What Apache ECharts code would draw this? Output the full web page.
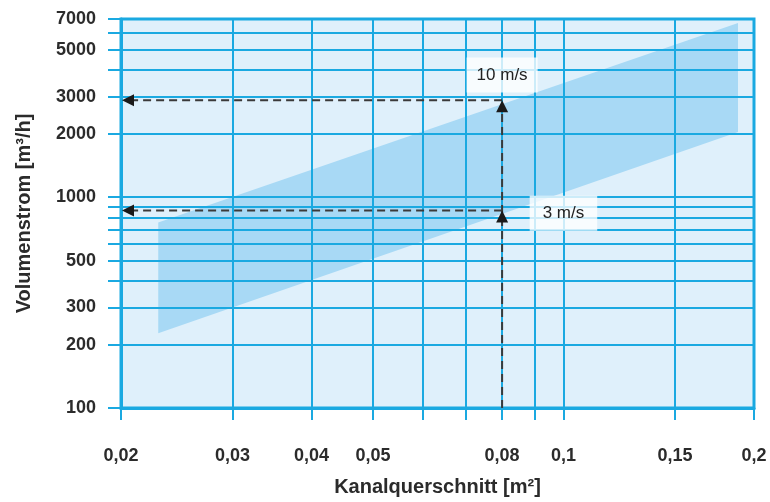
<!DOCTYPE html>
<html><head><meta charset="utf-8">
<script src="https://cdn.jsdelivr.net/npm/echarts@6/dist/echarts.min.js"></script>
<style>html,body{margin:0;padding:0;background:#fff}#c{width:770px;height:502px}</style>
</head><body><div id="c"></div>
<script>
// ---- data ----
const xGridValues = [0.02, 0.03, 0.04, 0.05, 0.06, 0.07, 0.08, 0.09, 0.1, 0.15, 0.2];
const xLabelValues = [0.02, 0.03, 0.04, 0.05, 0.08, 0.1, 0.15, 0.2];
const yGridValues = [100, 200, 300, 400, 500, 600, 700, 800, 900, 1000, 2000, 3000, 4000, 5000, 6000, 7000];
const yLabelValues = [100, 200, 300, 500, 1000, 2000, 3000, 5000, 7000];
const bandX = [0.0229, 0.1887];
const bandLow = [226, 2035];    // 3 m/s edge
const bandHigh = [759, 6700];   // 10 m/s edge
const refX = 0.08;
const refQ10 = 2880;
const refQ3 = 864;
const labelNames = ['10 m/s', '3 m/s'];
const labelX = [0.08, 0.1];
const labelY = [3800, 840];

// ---- helpers ----
const L = Math.log10;
const FONT = 'Liberation Sans, Arial, Helvetica, sans-serif';
const GRID_COLOR = '#1aa9e1';
function fmt(list, v, comma) {
  let best = list[0], bd = Infinity;
  list.forEach(t => { const d = Math.abs(L(t) - v); if (d < bd) { bd = d; best = t; } });
  const s = String(best);
  return comma ? s.replace('.', ',') : s;
}

const chart = echarts.init(document.getElementById('c'), null, { renderer: 'canvas' });

const option = {
  animation: false,
  grid: {
    left: 121, right: 16, top: 19, bottom: 91,
    show: true, backgroundColor: '#dff0fb', borderColor: GRID_COLOR, borderWidth: 3
  },
  xAxis: {
    type: 'value', z: 5,
    min: L(xGridValues[0]), max: L(xGridValues[xGridValues.length - 1]),
    name: 'Kanalquerschnitt [m²]', nameLocation: 'middle', nameGap: 69,
    nameTextStyle: { fontFamily: FONT, fontWeight: 'bold', fontSize: 20, color: '#2b2b2b' },
    axisLine: { show: true, lineStyle: { color: GRID_COLOR, width: 3 } },
    axisTick: { show: true, inside: false, length: 12, customValues: xGridValues.map(L), lineStyle: { color: GRID_COLOR, width: 2 } },
    splitLine: { show: true, lineStyle: { color: GRID_COLOR, width: 2 } },
    axisLabel: {
      customValues: xLabelValues.map(L), margin: 39,
      fontFamily: FONT, fontWeight: 'bold', fontSize: 18, color: '#2b2b2b',
      formatter: v => fmt(xLabelValues, v, true)
    }
  },
  yAxis: {
    type: 'value', z: 5,
    min: L(yGridValues[0]), max: L(yGridValues[yGridValues.length - 1]),
    name: 'Volumenstrom [m³/h]', nameLocation: 'middle', nameGap: 87,
    nameTextStyle: { fontFamily: FONT, fontWeight: 'bold', fontSize: 20, color: '#2b2b2b' },
    axisLine: { show: true, lineStyle: { color: GRID_COLOR, width: 3 } },
    axisTick: { show: true, inside: false, length: 13, customValues: yGridValues.map(L), lineStyle: { color: GRID_COLOR, width: 2 } },
    splitLine: { show: true, lineStyle: { color: GRID_COLOR, width: 2 } },
    axisLabel: {
      customValues: yLabelValues.map(L), margin: 25,
      fontFamily: FONT, fontWeight: 'bold', fontSize: 18, color: '#2b2b2b',
      formatter: v => fmt(yLabelValues, v, false)
    }
  },
  series: [
    {
      type: 'custom', z: 2, silent: true,
      data: [[L(bandX[0]), L(bandLow[0])]],
      renderItem: (params, api) => {
        const p = (x, y) => api.coord([L(x), L(y)]);
        return {
          type: 'polygon',
          shape: { points: [
            p(bandX[0], bandLow[0]), p(bandX[1], bandLow[1]),
            p(bandX[1], bandHigh[1]), p(bandX[0], bandHigh[0])
          ] },
          style: { fill: '#a8d9f5' }
        };
      }
    },
    {
      type: 'custom', z: 10, silent: true,
      data: [[L(refX), L(refQ10)]],
      renderItem: (params, api) => {
        const p = (x, y) => api.coord([L(x), L(y)]);
        const xMin = xGridValues[0], yMin = yGridValues[0];
        const dash = { stroke: '#3a3a3a', lineWidth: 2, lineDash: [8, 5], fill: null };
        const a = p(refX, yMin), b = p(refX, refQ10), c = p(xMin, refQ10);
        const d = p(refX, refQ3), e = p(xMin, refQ3);
        const up = (q) => ({ type: 'polygon', shape: { points: [[q[0], q[1]], [q[0] - 6, q[1] + 12], [q[0] + 6, q[1] + 12]] }, style: { fill: '#1a1a1a' } });
        const left = (q) => ({ type: 'polygon', shape: { points: [[q[0] + 1, q[1]], [q[0] + 13, q[1] - 6], [q[0] + 13, q[1] + 6]] }, style: { fill: '#1a1a1a' } });
        const children = [
          { type: 'line', shape: { x1: a[0], y1: a[1], x2: b[0], y2: b[1] + 10 }, style: dash },
          { type: 'line', shape: { x1: b[0], y1: b[1], x2: c[0] + 12, y2: c[1] }, style: dash },
          { type: 'line', shape: { x1: d[0], y1: d[1], x2: e[0] + 12, y2: e[1] }, style: dash },
          up(b), up(d), left(c), left(e)
        ];
        const pads = [[9, 10], [9, 13]];
        labelNames.forEach((t, i) => {
          const q = p(labelX[i], labelY[i]);
          children.push({
            type: 'text', x: q[0], y: q[1],
            style: {
              text: t, font: '17px ' + FONT, fill: '#222', align: 'center', verticalAlign: 'middle',
              backgroundColor: 'rgba(255,255,255,0.78)', padding: pads[i]
            }
          });
        });
        return { type: 'group', children };
      }
    }
  ]
};
chart.setOption(option);
</script>
</body></html>
